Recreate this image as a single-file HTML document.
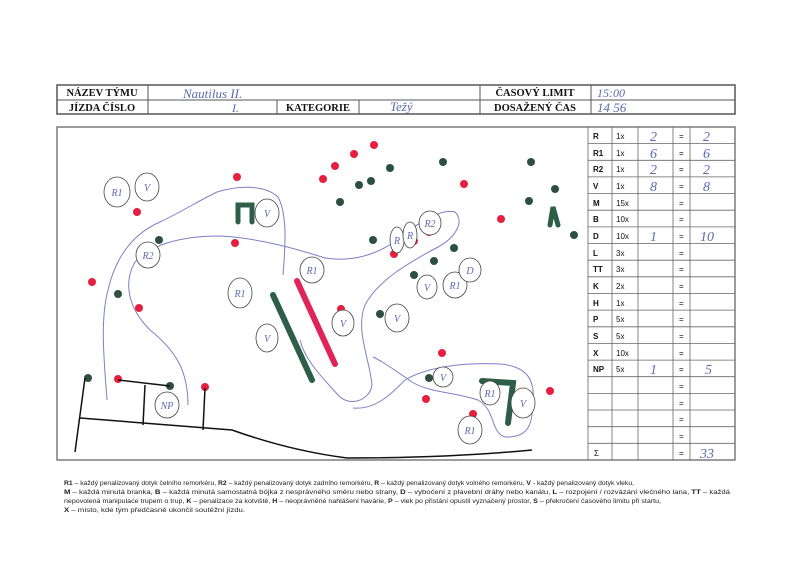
<!DOCTYPE html>
<html><head><meta charset="utf-8"><style>
html,body{margin:0;padding:0;background:#fff;}
svg{display:block}
.b{font-family:"Liberation Serif",serif;font-weight:bold;font-size:10.5px;fill:#111}
.t{font-family:"Liberation Sans",sans-serif;font-size:8px;fill:#111}
.f{font-family:"Liberation Sans",sans-serif;font-size:6.8px;fill:#222}
.h{font-family:"Liberation Serif",serif;font-style:italic;fill:#5a6ab0}
</style></head><body>
<svg width="800" height="584" viewBox="0 0 800 584" xmlns="http://www.w3.org/2000/svg">
<rect width="800" height="584" fill="#fff"/>
<!-- header -->
<g stroke="#555" fill="none">
<rect x="57" y="85" width="678" height="29" stroke-width="1.5"/>
<line x1="57" y1="100" x2="735" y2="100"/>
<line x1="148" y1="85" x2="148" y2="114"/>
<line x1="480" y1="85" x2="480" y2="114"/>
<line x1="591" y1="85" x2="591" y2="114"/>
<line x1="277" y1="100" x2="277" y2="114"/>
<line x1="359" y1="100" x2="359" y2="114"/>
</g>
<text class="b" x="102" y="96" text-anchor="middle">NÁZEV TÝMU</text>
<text class="b" x="102" y="111" text-anchor="middle">JÍZDA ČÍSLO</text>
<text class="b" x="318" y="111" text-anchor="middle">KATEGORIE</text>
<text class="b" x="535" y="96" text-anchor="middle">ČASOVÝ LIMIT</text>
<text class="b" x="535" y="111" text-anchor="middle">DOSAŽENÝ ČAS</text>
<text class="h" x="183" y="98" font-size="13">Nautilus II.</text>
<text class="h" x="232" y="112" font-size="12">I.</text>
<text class="h" x="390" y="111" font-size="13">Težý</text>
<text class="h" x="597" y="97" font-size="12">15:00</text>
<text class="h" x="597" y="112" font-size="13">14 56</text>
<!-- main box -->
<rect x="57" y="127" width="678" height="333" fill="none" stroke="#666" stroke-width="1.3"/>
<!-- score table -->
<g stroke="#666" fill="none" stroke-width="0.8">
<line x1="588" y1="127" x2="588" y2="460"/>
<line x1="612" y1="127" x2="612" y2="460"/>
<line x1="638" y1="127" x2="638" y2="460"/>
<line x1="673" y1="127" x2="673" y2="460"/>
<line x1="690" y1="127" x2="690" y2="460"/>
<path d="M588 143.6H735M588 160.3H735M588 176.9H735M588 193.6H735M588 210.2H735M588 226.9H735M588 243.5H735M588 260.2H735M588 276.8H735M588 293.5H735M588 310.1H735M588 326.8H735M588 343.4H735M588 360.1H735M588 376.7H735M588 393.4H735M588 410H735M588 426.7H735M588 443.3H735"/>
</g>
<g class="t">
<text x="593" y="139" font-weight="bold">R</text><text x="616" y="139">1x</text><text x="679" y="139">=</text>
<text x="593" y="156" font-weight="bold">R1</text><text x="616" y="156">1x</text><text x="679" y="156">=</text>
<text x="593" y="172" font-weight="bold">R2</text><text x="616" y="172">1x</text><text x="679" y="172">=</text>
<text x="593" y="189" font-weight="bold">V</text><text x="616" y="189">1x</text><text x="679" y="189">=</text>
<text x="593" y="206" font-weight="bold">M</text><text x="616" y="206">15x</text><text x="679" y="206">=</text>
<text x="593" y="222" font-weight="bold">B</text><text x="616" y="222">10x</text><text x="679" y="222">=</text>
<text x="593" y="239" font-weight="bold">D</text><text x="616" y="239">10x</text><text x="679" y="239">=</text>
<text x="593" y="256" font-weight="bold">L</text><text x="616" y="256">3x</text><text x="679" y="256">=</text>
<text x="593" y="272" font-weight="bold">TT</text><text x="616" y="272">3x</text><text x="679" y="272">=</text>
<text x="593" y="289" font-weight="bold">K</text><text x="616" y="289">2x</text><text x="679" y="289">=</text>
<text x="593" y="306" font-weight="bold">H</text><text x="616" y="306">1x</text><text x="679" y="306">=</text>
<text x="593" y="322" font-weight="bold">P</text><text x="616" y="322">5x</text><text x="679" y="322">=</text>
<text x="593" y="339" font-weight="bold">S</text><text x="616" y="339">5x</text><text x="679" y="339">=</text>
<text x="593" y="356" font-weight="bold">X</text><text x="616" y="356">10x</text><text x="679" y="356">=</text>
<text x="593" y="372" font-weight="bold">NP</text><text x="616" y="372">5x</text><text x="679" y="372">=</text>
<text x="679" y="389">=</text><text x="679" y="406">=</text><text x="679" y="422">=</text><text x="679" y="439">=</text>
<text x="594" y="456">Σ</text><text x="679" y="456">=</text>
</g>
<g class="h" font-size="14">
<text x="650" y="141">2</text><text x="703" y="141">2</text>
<text x="650" y="158">6</text><text x="703" y="158">6</text>
<text x="650" y="174">2</text><text x="703" y="174">2</text>
<text x="650" y="191">8</text><text x="703" y="191">8</text>
<text x="650" y="241">1</text><text x="700" y="241">10</text>
<text x="650" y="374">1</text><text x="705" y="374">5</text>
<text x="700" y="458">33</text>
</g>
<!-- blue pen paths -->
<g stroke="#7c80c4" fill="none" stroke-width="1">
<path d="M107 400 C104 360 100 320 108 290 C115 260 130 235 160 222 C185 210 200 200 217 192 C240 185 265 185 278 197 C288 215 285 250 283 275"/>
<path d="M325 258 C300 250 260 238 220 236 C180 236 150 245 135 262 C122 285 130 310 150 330 C175 350 188 370 188 405"/>
<path d="M325 258 C350 262 375 256 397 240 C415 225 440 208 455 212 C465 222 455 238 438 247 C410 262 378 280 365 305 C355 330 370 360 372 385 C370 400 350 408 338 395 C320 375 305 360 300 340"/>
<path d="M353 408 C375 410 390 395 405 380 C425 368 460 362 500 364 C525 366 535 378 533 400 C532 420 532 438 505 437 C490 432 496 410 478 400 C455 392 430 393 412 382 C395 370 380 360 373 357"/>
</g>
<!-- dots -->
<g fill="#e5203f">
<circle cx="374" cy="145" r="4"/><circle cx="354" cy="154" r="4"/><circle cx="335" cy="166" r="4"/><circle cx="323" cy="179" r="4"/><circle cx="237" cy="177" r="4"/><circle cx="464" cy="184" r="4"/><circle cx="501" cy="219" r="4"/><circle cx="137" cy="212" r="4"/><circle cx="235" cy="243" r="4"/><circle cx="92" cy="282" r="4"/><circle cx="139" cy="308" r="4"/><circle cx="414" cy="241" r="4"/><circle cx="429" cy="232" r="4"/><circle cx="394" cy="254" r="4"/><circle cx="341" cy="309" r="4"/><circle cx="442" cy="353" r="4"/><circle cx="550" cy="391" r="4"/><circle cx="426" cy="399" r="4"/><circle cx="473" cy="414" r="4"/><circle cx="118" cy="379" r="4"/><circle cx="205" cy="387" r="4"/>
</g>
<g fill="#2c4f3e">
<circle cx="390" cy="168" r="4"/><circle cx="443" cy="162" r="4"/><circle cx="531" cy="162" r="4"/><circle cx="555" cy="189" r="4"/><circle cx="529" cy="201" r="4"/><circle cx="574" cy="235" r="4"/><circle cx="359" cy="185" r="4"/><circle cx="371" cy="181" r="4"/><circle cx="340" cy="202" r="4"/><circle cx="159" cy="240" r="4"/><circle cx="118" cy="294" r="4"/><circle cx="373" cy="240" r="4"/><circle cx="454" cy="248" r="4"/><circle cx="434" cy="261" r="4"/><circle cx="414" cy="275" r="4"/><circle cx="380" cy="314" r="4"/><circle cx="429" cy="378" r="4"/><circle cx="88" cy="378" r="4"/><circle cx="170" cy="386" r="4"/>
</g>
<!-- marker shapes -->
<g stroke-linecap="round" fill="none">
<line x1="273" y1="295" x2="312" y2="380" stroke="#2f5e48" stroke-width="6"/>
<line x1="297" y1="281" x2="335" y2="364" stroke="#e0245a" stroke-width="6"/>
<path d="M482 381 L513 383 L508 423" stroke="#2f5e48" stroke-width="6"/>
<path d="M238 222 V205 H252 V222" stroke="#2f5e48" stroke-width="5"/>
<path d="M550 225 L553 207 L558 225" stroke="#2f5e48" stroke-width="5"/>
</g>
<!-- black ink -->
<g stroke="#111" fill="none" stroke-width="1.5">
<path d="M85 378 L75 452"/>
<path d="M80 418 L232 430 C260 440 300 452 347 458"/>
<path d="M347 458 C420 458 480 455 532 450"/>
<path d="M118 380 L170 386"/>
<path d="M145 385 L143 425"/>
<path d="M205 388 L203 430"/>
</g>
<!-- circled labels -->
<g fill="#fff" stroke="#444" stroke-width="0.8">
<ellipse cx="117" cy="192" rx="13" ry="15"/><ellipse cx="147" cy="187" rx="12" ry="14"/>
<ellipse cx="267" cy="213" rx="12" ry="14"/><ellipse cx="148" cy="255" rx="12" ry="13"/>
<ellipse cx="312" cy="270" rx="12" ry="13"/><ellipse cx="240" cy="293" rx="12" ry="15"/>
<ellipse cx="267" cy="338" rx="11" ry="14"/><ellipse cx="343" cy="323" rx="11" ry="13"/>
<ellipse cx="397" cy="318" rx="12" ry="14"/><ellipse cx="397" cy="240" rx="7" ry="13"/>
<ellipse cx="410" cy="235" rx="7" ry="13"/><ellipse cx="430" cy="223" rx="11" ry="12"/>
<ellipse cx="427" cy="287" rx="10" ry="12"/><ellipse cx="455" cy="285" rx="12" ry="13"/>
<ellipse cx="470" cy="270" rx="11" ry="12"/><ellipse cx="443" cy="377" rx="10" ry="10"/>
<ellipse cx="490" cy="393" rx="10" ry="12"/><ellipse cx="523" cy="403" rx="12" ry="15"/>
<ellipse cx="470" cy="430" rx="12" ry="14"/><ellipse cx="167" cy="405" rx="12" ry="13"/>
</g>
<g class="h" font-size="10" fill="#222" text-anchor="middle">
<text x="117" y="196">R1</text><text x="147" y="191">V</text><text x="267" y="217">V</text>
<text x="148" y="259">R2</text><text x="312" y="274">R1</text><text x="240" y="297">R1</text>
<text x="267" y="342">V</text><text x="343" y="327">V</text><text x="397" y="322">V</text>
<text x="397" y="244">R</text><text x="410" y="239">R</text><text x="430" y="227">R2</text>
<text x="427" y="291">V</text><text x="455" y="289">R1</text><text x="470" y="274">D</text>
<text x="443" y="381">V</text><text x="490" y="397">R1</text><text x="523" y="407">V</text>
<text x="470" y="434">R1</text><text x="167" y="409">NP</text>
</g>
<!-- footer -->
<text class="f" x="64" y="485" textLength="570" lengthAdjust="spacingAndGlyphs"><tspan font-weight="bold">R1</tspan> – každý penalizovaný dotyk čelního remorkéru, <tspan font-weight="bold">R2</tspan> – každý penalizovaný dotyk zadního remorkéru, <tspan font-weight="bold">R</tspan> – každý penalizovaný dotyk volného remorkéru, <tspan font-weight="bold">V</tspan> - každý penalizovaný dotyk vleku,</text>
<text class="f" x="64" y="494" textLength="666" lengthAdjust="spacingAndGlyphs"><tspan font-weight="bold">M</tspan> – každá minutá branka, <tspan font-weight="bold">B</tspan> – každá minutá samostatná bójka z nesprávného směru nebo strany, <tspan font-weight="bold">D</tspan> – vybočení z plavební dráhy nebo kanálu, <tspan font-weight="bold">L</tspan> – rozpojení / rozvázání vlečného lana, <tspan font-weight="bold">TT</tspan> – každá</text>
<text class="f" x="64" y="503" textLength="597" lengthAdjust="spacingAndGlyphs">nepovolená manipulace trupem o trup, <tspan font-weight="bold">K</tspan> – penalizace za kotviště, <tspan font-weight="bold">H</tspan> – neoprávněné nahlášení havárie, <tspan font-weight="bold">P</tspan> – vlek po přistání opustil vyznačený prostor, <tspan font-weight="bold">S</tspan> – překročení časového limitu při startu,</text>
<text class="f" x="64" y="512" textLength="181" lengthAdjust="spacingAndGlyphs"><tspan font-weight="bold">X</tspan> – místo, kde tým předčasně ukončil soutěžní jízdu.</text>
</svg>
</body></html>
